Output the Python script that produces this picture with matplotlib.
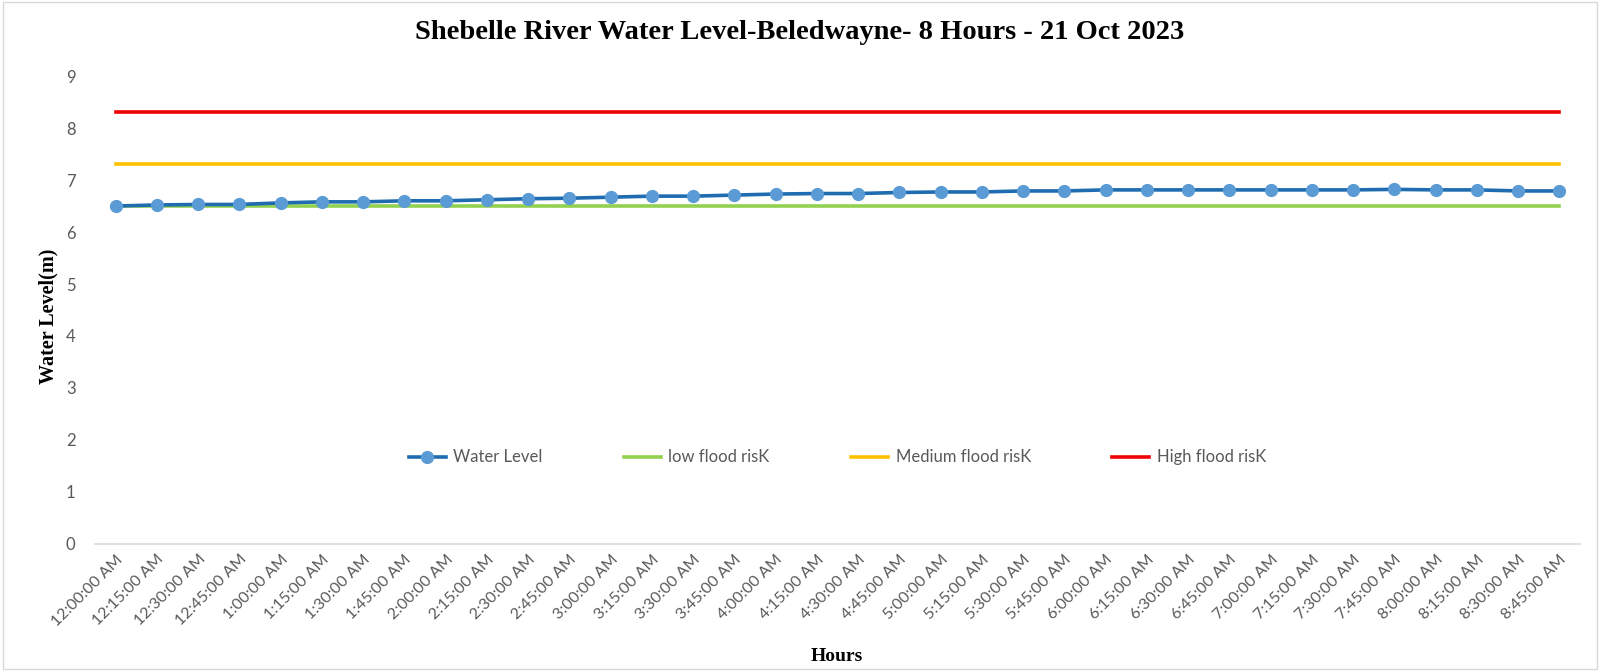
import matplotlib
matplotlib.use("Agg")
import matplotlib.pyplot as plt
from matplotlib.patches import Rectangle

hours = ["12:00:00 AM", "12:15:00 AM", "12:30:00 AM", "12:45:00 AM",
         "1:00:00 AM", "1:15:00 AM", "1:30:00 AM", "1:45:00 AM",
         "2:00:00 AM", "2:15:00 AM", "2:30:00 AM", "2:45:00 AM",
         "3:00:00 AM", "3:15:00 AM", "3:30:00 AM", "3:45:00 AM",
         "4:00:00 AM", "4:15:00 AM", "4:30:00 AM", "4:45:00 AM",
         "5:00:00 AM", "5:15:00 AM", "5:30:00 AM", "5:45:00 AM",
         "6:00:00 AM", "6:15:00 AM", "6:30:00 AM", "6:45:00 AM",
         "7:00:00 AM", "7:15:00 AM", "7:30:00 AM", "7:45:00 AM",
         "8:00:00 AM", "8:15:00 AM", "8:30:00 AM", "8:45:00 AM"]
water_level = [6.50, 6.52, 6.53, 6.53, 6.56, 6.58, 6.58, 6.60,
               6.60, 6.62, 6.64, 6.65, 6.67, 6.69, 6.69, 6.71,
               6.73, 6.74, 6.74, 6.76, 6.77, 6.77, 6.79, 6.79,
               6.81, 6.81, 6.81, 6.81, 6.81, 6.81, 6.81, 6.82,
               6.81, 6.81, 6.79, 6.79]
low_risk = [6.5] * len(hours)
medium_risk = [7.3] * len(hours)
high_risk = [8.3] * len(hours)
y_ticks = [0, 1, 2, 3, 4, 5, 6, 7, 8, 9]

fig = plt.figure(figsize=(16, 6.71), dpi=100)
ax = fig.add_axes([0.0594, 0.1893, 0.9281, 0.6974])

x = list(range(len(hours)))
ax.plot(x, water_level, color="#1F6CB0", lw=2.6, marker="o", ms=8.5,
        markerfacecolor="#5B9BD5", markeredgecolor="#5B9BD5", label="Water Level", zorder=5)
ax.plot(x, low_risk, color="#92D050", lw=2.6, label="low flood risK", zorder=4)
ax.plot(x, medium_risk, color="#FFC000", lw=2.6, label="Medium flood risK", zorder=4)
ax.plot(x, high_risk, color="#F00000", lw=2.6, label="High flood risK", zorder=4)

ax.set_xlim(-0.5, len(hours) - 0.5)
ax.set_ylim(0, 9)
ax.set_yticks(y_ticks)
ax.set_xticks(x)
ax.set_xticklabels(hours, rotation=45, ha="right", va="top", rotation_mode="anchor",
                   fontfamily="Lato", fontsize=11.5, color="#595959")
for lbl in ax.get_yticklabels():
    lbl.set_fontfamily("Lato")
    lbl.set_fontsize(12)
    lbl.set_color("#595959")
ax.tick_params(axis="both", length=0)
ax.tick_params(axis="y", pad=14)
ax.tick_params(axis="x", pad=6)

for s in ["top", "right", "left"]:
    ax.spines[s].set_visible(False)
ax.spines["bottom"].set_color("#D9D9D9")
ax.spines["bottom"].set_linewidth(1.2)

fig.text(0.5, 0.951, "Shebelle River Water Level-Beledwayne- 8 Hours - 21 Oct 2023",
         ha="center", va="center", fontfamily="Liberation Serif", fontweight="bold", fontsize=20.5)
fig.text(0.03, 0.529, "Water Level(m)", rotation=90, ha="center", va="center",
         fontfamily="Liberation Serif", fontweight="bold", fontsize=14.5)
fig.text(0.523, 0.022, "Hours", ha="center", va="center",
         fontfamily="Liberation Serif", fontweight="bold", fontsize=14)

leg = ax.legend(loc="center", bbox_to_anchor=(0.5, 0.185), ncol=4, frameon=False,
                prop={"family": "Lato", "size": 12}, handlelength=2.2, handletextpad=0.45,
                columnspacing=4.9)
for t in leg.get_texts():
    t.set_color("#595959")

fig.patches.append(Rectangle((0.002, 0.003), 0.996, 0.994, transform=fig.transFigure,
                             fill=False, edgecolor="#D9D9D9", lw=1.0))

fig.savefig("out.png", dpi=100, facecolor="white")
